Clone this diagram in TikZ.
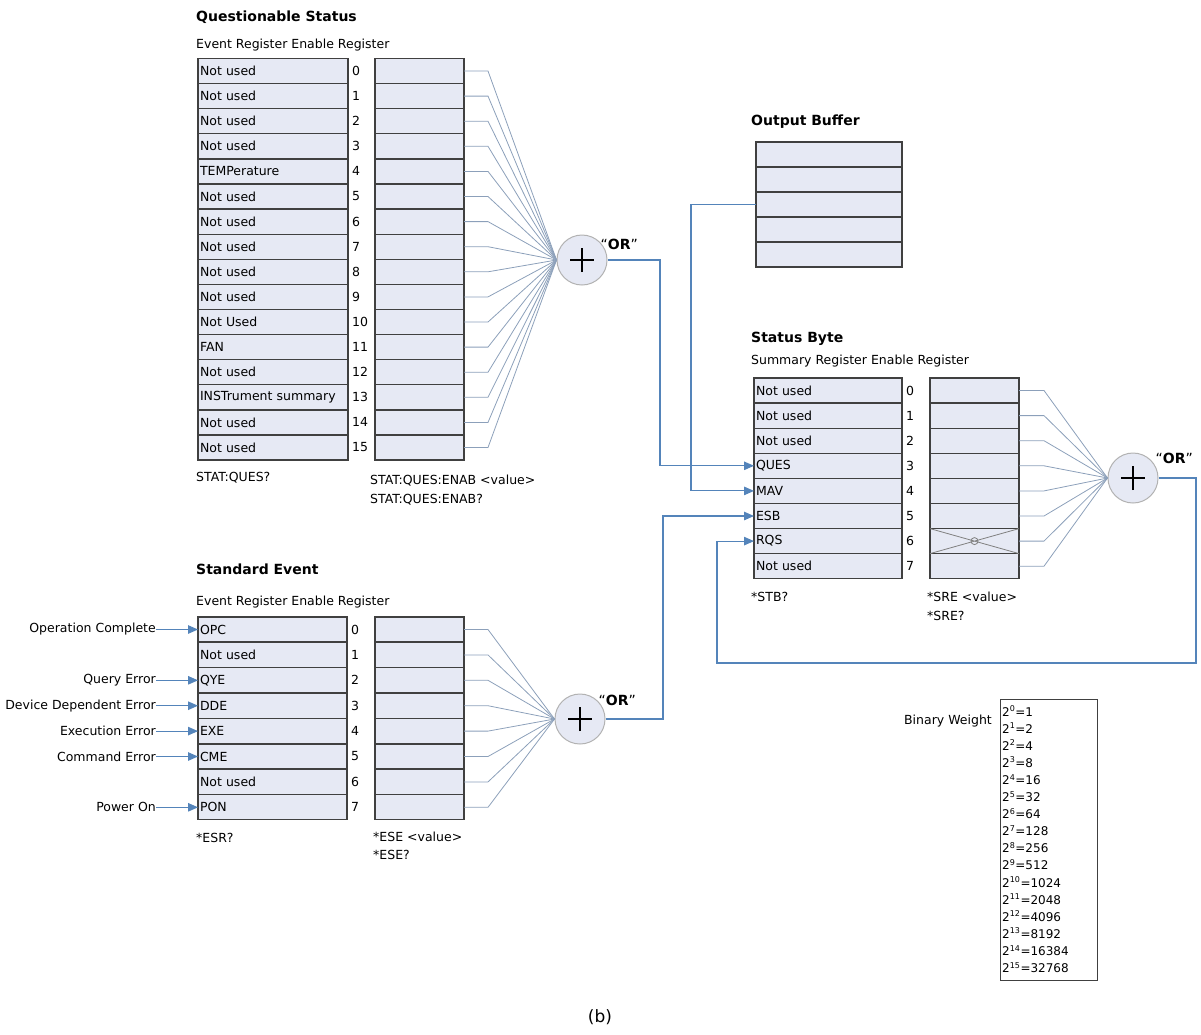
\documentclass[tikz,border=0pt]{standalone}
\usepackage{fontspec}
\setmainfont{DejaVu Sans}
\usetikzlibrary{arrows.meta,positioning}

\definecolor{regfill}{RGB}{230,233,244}
\definecolor{regline}{RGB}{64,64,64}
\definecolor{linkblue}{RGB}{84,132,186}
\definecolor{fanblue}{RGB}{140,160,186}
\newcommand{\rgfont}{\fontsize{12.5}{14}\selectfont}
\newcommand{\hdfont}{\fontsize{14}{16}\selectfont\bfseries}

\begin{document}
\begin{tikzpicture}[x=1pt,y=-1pt,
    evbox/.style={draw=regline,fill=regfill,line width=1.2pt,anchor=north west,
      inner xsep=2pt,inner ysep=0pt,outer sep=0pt,text width=#1,align=left,
      minimum height=25pt,font=\rgfont},
    evbox/.default=146pt,
    enbox/.style={draw=regline,fill=regfill,line width=1.2pt,inner sep=0pt,
      outer sep=0pt,minimum width=#1,minimum height=25pt},
    enbox/.default=89pt,
    bitnum/.style={inner sep=0pt,font=\rgfont},
    orgate/.style={circle,draw=gray!60,fill=regfill,line width=1pt,minimum size=50pt,
      inner sep=0pt,path picture={
        \draw[black,line width=1.3pt] ([xshift=-12pt]path picture bounding box.center)
          -- ([xshift=12pt]path picture bounding box.center)
          ([yshift=-12pt]path picture bounding box.center)
          -- ([yshift=12pt]path picture bounding box.center);}},
    orlabel/.style={anchor=west,inner sep=0pt,font=\fontsize{14}{16}\selectfont},
    fan/.style={draw=fanblue,line width=0.8pt},
    link/.style={draw=linkblue,line width=1.1pt},
    arrowin/.style={-{Triangle[length=10pt,width=8.5pt]}},
    heading/.style={anchor=west,inner sep=0pt,font=\hdfont},
    note/.style={anchor=west,inner sep=0pt,font=\rgfont}]

  \useasboundingbox (0,0) rectangle (1201,1034);

  % Questionable status register
  \node[heading] (qtitle) at (196,17) {Questionable Status};
  \node[note] (qsub) at (196,45) {Event Register Enable Register};
  \node[orgate] (qor) at (582,260) {};
  \node[orlabel] (qorl) at ([xshift=-7pt,yshift=16pt]qor.east) {``\textbf{OR}''};
  \foreach \t [count=\i from 0] in {Not used,Not used,Not used,Not used,TEMPerature,
      Not used,Not used,Not used,Not used,Not used,Not Used,FAN,Not used,
      INSTrument summary,Not used,Not used} {
    \node[evbox] (qev\i) at (198,58.5+25.1*\i) {\t};
    \node[bitnum,right=4pt of qev\i] (qn\i) {\i};
    \node[enbox,right=27pt of qev\i] (qen\i) {};
    \draw[fan] (qen\i.east) -- ++(24,0) -- (qor.west);
  }
  \node[note] (qcmd) at (196,478) {STAT:QUES?};
  \node[note] (qencmd) at (370,481) {STAT:QUES:ENAB <value>};
  \node[note] (qenq) at (370,500) {STAT:QUES:ENAB?};

  % Output buffer
  \node[heading] (obtitle) at (751,122) {Output Buffer};
  \foreach \i in {0,...,4}
    \node[enbox=146pt,anchor=north west] (ob\i) at (756,142+25*\i) {};

  % Status byte register
  \node[heading] (stitle) at (751,339) {Status Byte};
  \node[note] (ssub) at (751,361) {Summary Register Enable Register};
  \node[orgate] (sor) at (1133,478) {};
  \node[orlabel] (sorl) at ([xshift=-3pt,yshift=20pt]sor.east) {``\textbf{OR}''};
  \foreach \t [count=\i from 0] in {Not used,Not used,Not used,QUES,MAV,ESB,RQS,Not used} {
    \node[evbox=144pt] (sev\i) at (754,378+25.1*\i) {\t};
    \node[bitnum,right=4pt of sev\i] (sn\i) {\i};
    \node[enbox,right=28pt of sev\i] (sen\i) {};
    \draw[fan] (sen\i.east) -- ++(25,0) -- (sor.west);
  }
  % bit 6 cannot be enabled
  \draw[draw=gray,line width=0.8pt] (sen6.north west) -- (sen6.south east)
    (sen6.south west) -- (sen6.north east);
  \draw[draw=gray,line width=0.8pt] (sen6.center) circle (3.5);
  \node[note] (scmd) at (751,597) {*STB?};
  \node[note] (sencmd) at (927,597) {*SRE <value>};
  \node[note] (senq) at (927,616) {*SRE?};

  % Standard event register
  \node[heading] (etitle) at (196,569) {Standard Event};
  \node[note] (esub) at (196,602) {Event Register Enable Register};
  \node[orgate] (eor) at (580,719) {};
  \node[orlabel] (eorl) at ([xshift=-7pt,yshift=19pt]eor.east) {``\textbf{OR}''};
  \foreach \t [count=\i from 0] in {OPC,Not used,QYE,DDE,EXE,CME,Not used,PON} {
    \node[evbox=145pt] (eev\i) at (198,617+25.4*\i) {\t};
    \node[bitnum,right=4pt of eev\i] (en\i) {\i};
    \node[enbox,right=28pt of eev\i] (een\i) {};
    \draw[fan] (een\i.east) -- ++(24,0) -- (eor.west);
  }
  \foreach \r/\t in {0/Operation Complete,2/Query Error,3/Device Dependent Error,
      4/Execution Error,5/Command Error,7/Power On} {
    \node[note,anchor=east,left=42pt of eev\r] (in\r) {\t};
    \draw[link,arrowin] (in\r) -- (eev\r);
  }
  \node[note] (ecmd) at (196,838) {*ESR?};
  \node[note] (eencmd) at (373,837) {*ESE <value>};
  \node[note] (eenq) at (373,855) {*ESE?};

  % Summary bits into the status byte
  \draw[link,arrowin] (qor.east) -| ([xshift=-94pt]sev3.west) -- (sev3.west);
  \draw[link,arrowin] (ob2.west) -| ([xshift=-63pt]sev4.west) -- (sev4.west);
  \draw[link,arrowin] (eor.east) -| ([xshift=-91pt]sev5.west) -- (sev5.west);
  \coordinate (fbcorner) at (1196,663);
  \draw[link,arrowin] (sor.east) -| (fbcorner) -| ([xshift=-37pt]sev6.west) -- (sev6.west);

  % Binary weight table
  \node[note,anchor=east] (bwlabel) at (992,721) {Binary Weight};
  \node[draw=regline,line width=1pt,anchor=north west,minimum width=97pt,
    minimum height=281pt,inner sep=0pt] (bwbox) at (1000,699) {};
  \foreach \n/\v in {0/1,1/2,2/4,3/8,4/16,5/32,6/64,7/128,8/256,9/512,10/1024,
      11/2048,12/4096,13/8192,14/16384,15/32768}
    \node[note,anchor=base west,font=\fontsize{12}{14}\selectfont] (bw\n)
      at (1002,716+17.1*\n) {2\textsuperscript{\n}=\v};

  \node[inner sep=0pt,font=\fontsize{17}{20}\selectfont] (caption) at (600,1017) {(b)};

\end{tikzpicture}
\end{document}
